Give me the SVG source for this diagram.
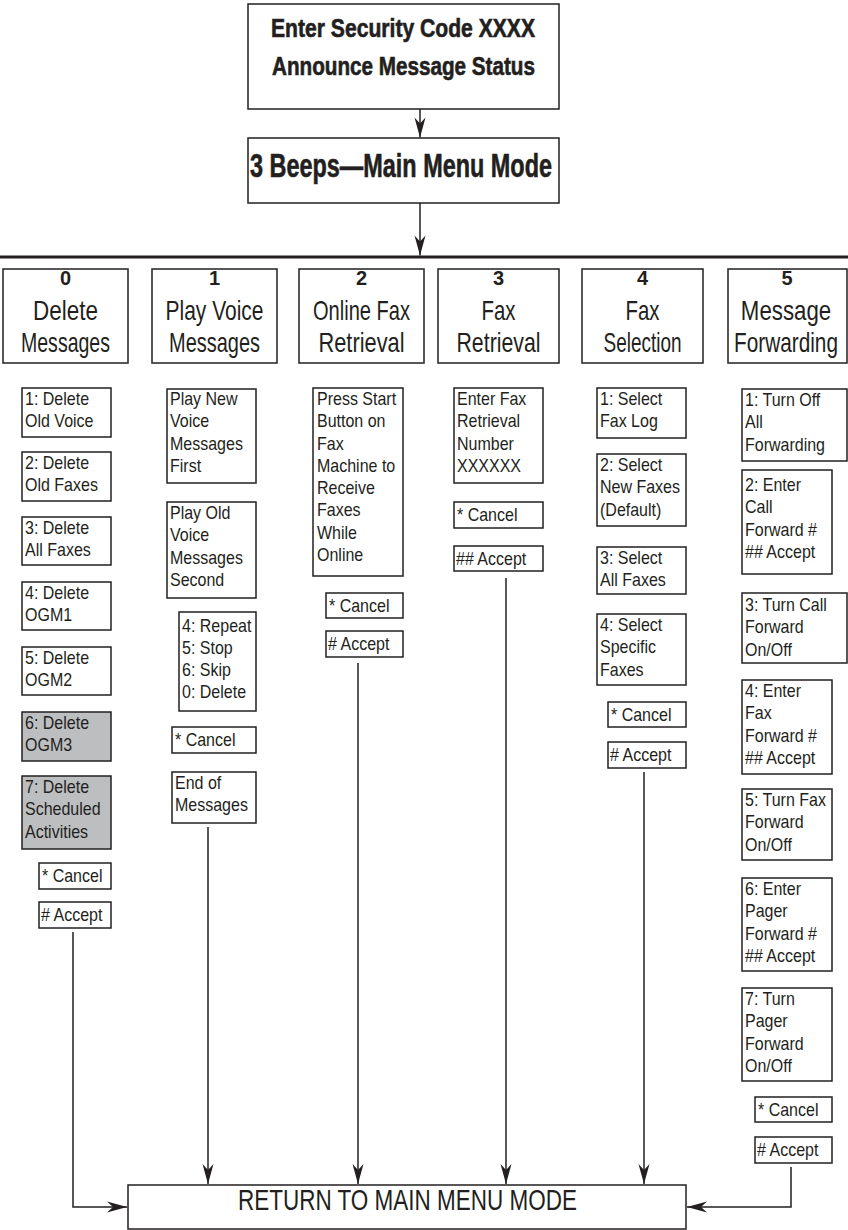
<svg xmlns="http://www.w3.org/2000/svg" width="848" height="1230" viewBox="0 0 848 1230">
<style>
.b{fill:#fff;stroke:#231f20;stroke-width:1.5}
.g{fill:#bcbec0}
.c{fill:none;stroke:#231f20;stroke-width:1.5}
.bus{fill:none;stroke:#231f20;stroke-width:3}
text{font-family:"Liberation Sans",Arial,Helvetica,sans-serif;fill:#231f20}
.s{font-size:18px}
.hd{font-size:28px;text-anchor:middle}
.num{font-size:20px;font-weight:bold;text-anchor:middle}
.big{font-weight:bold;text-anchor:middle;stroke:#231f20;stroke-width:0.6}
.ret{font-size:29px;text-anchor:middle}
</style>
<defs>
<marker id="ah" markerUnits="userSpaceOnUse" viewBox="-21 -7 22 14" refX="0" refY="0" markerWidth="22" markerHeight="14" orient="auto">
<path d="M0,0 L-20,-5.5 L-14,0 L-20,5.5 Z" fill="#231f20"/>
</marker>
</defs>

<g id="top">
<rect class="b" x="248" y="4" width="311" height="105"/>
<text class="big" x="403" y="37" font-size="25" textLength="264" lengthAdjust="spacingAndGlyphs">Enter Security Code XXXX</text>
<text class="big" x="403.5" y="75" font-size="25" textLength="263" lengthAdjust="spacingAndGlyphs">Announce Message Status</text>
</g>
<g id="mainmenu">
<rect class="b" x="248" y="138" width="311" height="65"/>
<text class="big" x="401" y="177" font-size="33" textLength="302" lengthAdjust="spacingAndGlyphs">3 Beeps—Main Menu Mode</text>
</g>

<g id="h0">
<rect class="b" x="3" y="269" width="125" height="94"/>
<text class="num" x="65.5" y="285">0</text>
<text class="hd" x="65.5" y="320" textLength="65" lengthAdjust="spacingAndGlyphs">Delete</text>
<text class="hd" x="65.5" y="352" textLength="89" lengthAdjust="spacingAndGlyphs">Messages</text>
</g>
<g id="h1">
<rect class="b" x="152" y="269" width="125" height="94"/>
<text class="num" x="214.5" y="285">1</text>
<text class="hd" x="214.5" y="320" textLength="98" lengthAdjust="spacingAndGlyphs">Play Voice</text>
<text class="hd" x="214.5" y="352" textLength="91" lengthAdjust="spacingAndGlyphs">Messages</text>
</g>
<g id="h2">
<rect class="b" x="299" y="269" width="125" height="94"/>
<text class="num" x="361.5" y="285">2</text>
<text class="hd" x="361.5" y="320" textLength="97" lengthAdjust="spacingAndGlyphs">Online Fax</text>
<text class="hd" x="361.5" y="352" textLength="86" lengthAdjust="spacingAndGlyphs">Retrieval</text>
</g>
<g id="h3">
<rect class="b" x="438" y="269" width="121" height="94"/>
<text class="num" x="498.5" y="285">3</text>
<text class="hd" x="498.5" y="320" textLength="34" lengthAdjust="spacingAndGlyphs">Fax</text>
<text class="hd" x="498.5" y="352" textLength="84" lengthAdjust="spacingAndGlyphs">Retrieval</text>
</g>
<g id="h4">
<rect class="b" x="582" y="269" width="121" height="94"/>
<text class="num" x="642.5" y="285">4</text>
<text class="hd" x="642.5" y="320" textLength="34" lengthAdjust="spacingAndGlyphs">Fax</text>
<text class="hd" x="642.5" y="352" textLength="78" lengthAdjust="spacingAndGlyphs">Selection</text>
</g>
<g id="h5">
<rect class="b" x="728" y="269" width="119" height="94"/>
<text class="num" x="787" y="285">5</text>
<text class="hd" transform="translate(786,320) scale(0.795,1)">Message</text>
<text class="hd" transform="translate(786,352) scale(0.743,1)">Forwarding</text>
</g>

<!-- column 0 -->
<g id="a1"><rect class="b" x="22" y="388" width="89" height="49"/><text class="s" transform="translate(25,405) scale(0.89,1)"><tspan x="0" y="0">1: Delete</tspan><tspan x="0" dy="22.3">Old Voice</tspan></text></g>
<g id="a2"><rect class="b" x="22" y="452" width="89" height="49"/><text class="s" transform="translate(25,469) scale(0.89,1)"><tspan x="0" y="0">2: Delete</tspan><tspan x="0" dy="22.3">Old Faxes</tspan></text></g>
<g id="a3"><rect class="b" x="22" y="517" width="89" height="48"/><text class="s" transform="translate(25,534) scale(0.89,1)"><tspan x="0" y="0">3: Delete</tspan><tspan x="0" dy="22.3">All Faxes</tspan></text></g>
<g id="a4"><rect class="b" x="22" y="582" width="89" height="48"/><text class="s" transform="translate(25,599) scale(0.89,1)"><tspan x="0" y="0">4: Delete</tspan><tspan x="0" dy="22.3">OGM1</tspan></text></g>
<g id="a5"><rect class="b" x="22" y="647" width="89" height="48"/><text class="s" transform="translate(25,664) scale(0.89,1)"><tspan x="0" y="0">5: Delete</tspan><tspan x="0" dy="22.3">OGM2</tspan></text></g>
<g id="a6"><rect class="b g" x="22" y="712" width="89" height="49"/><text class="s" transform="translate(25,729) scale(0.89,1)"><tspan x="0" y="0">6: Delete</tspan><tspan x="0" dy="22.3">OGM3</tspan></text></g>
<g id="a7"><rect class="b g" x="22" y="776" width="89" height="73"/><text class="s" transform="translate(25,793) scale(0.89,1)"><tspan x="0" y="0">7: Delete</tspan><tspan x="0" dy="22.3">Scheduled</tspan><tspan x="0" dy="22.3">Activities</tspan></text></g>
<g id="a8"><rect class="b" x="39" y="863" width="72" height="26"/><text class="s" transform="translate(42,882) scale(0.89,1)">* Cancel</text></g>
<g id="a9"><rect class="b" x="39" y="902" width="72" height="26"/><text class="s" transform="translate(41,921) scale(0.89,1)"># Accept</text></g>

<!-- column 1 -->
<g id="b1"><rect class="b" x="167" y="389" width="89" height="94"/><text class="s" transform="translate(170,405) scale(0.89,1)"><tspan x="0" y="0">Play New</tspan><tspan x="0" dy="22.3">Voice</tspan><tspan x="0" dy="22.3">Messages</tspan><tspan x="0" dy="22.3">First</tspan></text></g>
<g id="b2"><rect class="b" x="167" y="502" width="89" height="96"/><text class="s" transform="translate(170,519) scale(0.89,1)"><tspan x="0" y="0">Play Old</tspan><tspan x="0" dy="22.3">Voice</tspan><tspan x="0" dy="22.3">Messages</tspan><tspan x="0" dy="22.3">Second</tspan></text></g>
<g id="b3"><rect class="b" x="179" y="612" width="77" height="99"/><text class="s" transform="translate(182,632) scale(0.89,1)"><tspan x="0" y="0">4: Repeat</tspan><tspan x="0" dy="22">5: Stop</tspan><tspan x="0" dy="22">6: Skip</tspan><tspan x="0" dy="22">0: Delete</tspan></text></g>
<g id="b4"><rect class="b" x="172" y="727" width="84" height="26"/><text class="s" transform="translate(175,746) scale(0.89,1)">* Cancel</text></g>
<g id="b5"><rect class="b" x="172" y="772" width="84" height="51"/><text class="s" transform="translate(175,789) scale(0.89,1)"><tspan x="0" y="0">End of</tspan><tspan x="0" dy="22.3">Messages</tspan></text></g>

<!-- column 2 -->
<g id="c1"><rect class="b" x="313" y="388" width="90" height="188"/><text class="s" transform="translate(317,405) scale(0.89,1)"><tspan x="0" y="0">Press Start</tspan><tspan x="0" dy="22.3">Button on</tspan><tspan x="0" dy="22.3">Fax</tspan><tspan x="0" dy="22.3">Machine to</tspan><tspan x="0" dy="22.3">Receive</tspan><tspan x="0" dy="22.3">Faxes</tspan><tspan x="0" dy="22.3">While</tspan><tspan x="0" dy="22.3">Online</tspan></text></g>
<g id="c2"><rect class="b" x="326" y="593" width="77" height="25"/><text class="s" transform="translate(329,612) scale(0.89,1)">* Cancel</text></g>
<g id="c3"><rect class="b" x="326" y="631" width="77" height="26"/><text class="s" transform="translate(328,650) scale(0.89,1)"># Accept</text></g>

<!-- column 3 -->
<g id="d1"><rect class="b" x="454" y="388" width="89" height="95"/><text class="s" transform="translate(457,405) scale(0.89,1)"><tspan x="0" y="0">Enter Fax</tspan><tspan x="0" dy="22.3">Retrieval</tspan><tspan x="0" dy="22.3">Number</tspan><tspan x="0" dy="22.3">XXXXXX</tspan></text></g>
<g id="d2"><rect class="b" x="454" y="502" width="89" height="26"/><text class="s" transform="translate(457,521) scale(0.89,1)">* Cancel</text></g>
<g id="d3"><rect class="b" x="454" y="546" width="89" height="25"/><text class="s" transform="translate(456,565) scale(0.89,1)">## Accept</text></g>

<!-- column 4 -->
<g id="e1"><rect class="b" x="597" y="388" width="89" height="50"/><text class="s" transform="translate(600,405) scale(0.89,1)"><tspan x="0" y="0">1: Select</tspan><tspan x="0" dy="22.3">Fax Log</tspan></text></g>
<g id="e2"><rect class="b" x="597" y="454" width="89" height="72"/><text class="s" transform="translate(600,471) scale(0.89,1)"><tspan x="0" y="0">2: Select</tspan><tspan x="0" dy="22.3">New Faxes</tspan><tspan x="0" dy="22.3">(Default)</tspan></text></g>
<g id="e3"><rect class="b" x="597" y="547" width="89" height="47"/><text class="s" transform="translate(600,564) scale(0.89,1)"><tspan x="0" y="0">3: Select</tspan><tspan x="0" dy="22.3">All Faxes</tspan></text></g>
<g id="e4"><rect class="b" x="597" y="614" width="89" height="71"/><text class="s" transform="translate(600,631) scale(0.89,1)"><tspan x="0" y="0">4: Select</tspan><tspan x="0" dy="22.3">Specific</tspan><tspan x="0" dy="22.3">Faxes</tspan></text></g>
<g id="e5"><rect class="b" x="608" y="702" width="78" height="25"/><text class="s" transform="translate(611,721) scale(0.89,1)">* Cancel</text></g>
<g id="e6"><rect class="b" x="608" y="742" width="78" height="26"/><text class="s" transform="translate(610,761) scale(0.89,1)"># Accept</text></g>

<!-- column 5 -->
<g id="f1"><rect class="b" x="742" y="389" width="105" height="72"/><text class="s" transform="translate(745,406) scale(0.89,1)"><tspan x="0" y="0">1: Turn Off</tspan><tspan x="0" dy="22.3">All</tspan><tspan x="0" dy="22.3">Forwarding</tspan></text></g>
<g id="f2"><rect class="b" x="742" y="470" width="90" height="104"/><text class="s" transform="translate(745,491) scale(0.89,1)"><tspan x="0" y="0">2: Enter</tspan><tspan x="0" dy="22.3">Call</tspan><tspan x="0" dy="22.3">Forward #</tspan><tspan x="0" dy="22.3">## Accept</tspan></text></g>
<g id="f3"><rect class="b" x="742" y="593" width="105" height="70"/><text class="s" transform="translate(745,611) scale(0.89,1)"><tspan x="0" y="0">3: Turn Call</tspan><tspan x="0" dy="22.3">Forward</tspan><tspan x="0" dy="22.3">On/Off</tspan></text></g>
<g id="f4"><rect class="b" x="742" y="680" width="90" height="94"/><text class="s" transform="translate(745,697) scale(0.89,1)"><tspan x="0" y="0">4: Enter</tspan><tspan x="0" dy="22.3">Fax</tspan><tspan x="0" dy="22.3">Forward #</tspan><tspan x="0" dy="22.3">## Accept</tspan></text></g>
<g id="f5"><rect class="b" x="742" y="789" width="90" height="71"/><text class="s" transform="translate(745,806) scale(0.89,1)"><tspan x="0" y="0">5: Turn Fax</tspan><tspan x="0" dy="22.3">Forward</tspan><tspan x="0" dy="22.3">On/Off</tspan></text></g>
<g id="f6"><rect class="b" x="742" y="878" width="90" height="93"/><text class="s" transform="translate(745,895) scale(0.89,1)"><tspan x="0" y="0">6: Enter</tspan><tspan x="0" dy="22.3">Pager</tspan><tspan x="0" dy="22.3">Forward #</tspan><tspan x="0" dy="22.3">## Accept</tspan></text></g>
<g id="f7"><rect class="b" x="742" y="988" width="90" height="93"/><text class="s" transform="translate(745,1005) scale(0.89,1)"><tspan x="0" y="0">7: Turn</tspan><tspan x="0" dy="22.3">Pager</tspan><tspan x="0" dy="22.3">Forward</tspan><tspan x="0" dy="22.3">On/Off</tspan></text></g>
<g id="f8"><rect class="b" x="755" y="1097" width="77" height="25"/><text class="s" transform="translate(758,1116) scale(0.89,1)">* Cancel</text></g>
<g id="f9"><rect class="b" x="755" y="1137" width="77" height="26"/><text class="s" transform="translate(757,1156) scale(0.89,1)"># Accept</text></g>

<g id="return">
<rect class="b" x="128" y="1185" width="558" height="44"/>
<text class="ret" x="407.5" y="1210" textLength="339" lengthAdjust="spacingAndGlyphs">RETURN TO MAIN MENU MODE</text>
</g>

<g id="connectors">
<line class="c" x1="420" y1="109" x2="420" y2="137.5" marker-end="url(#ah)"/>
<line class="c" x1="420" y1="203" x2="420" y2="255.5" marker-end="url(#ah)"/>
<line class="bus" x1="0" y1="257" x2="848" y2="257"/>
<polyline class="c" points="73,932 73,1207 127,1207" marker-end="url(#ah)"/>
<line class="c" x1="208" y1="827" x2="208" y2="1184" marker-end="url(#ah)"/>
<line class="c" x1="358" y1="663" x2="358" y2="1184" marker-end="url(#ah)"/>
<line class="c" x1="506" y1="578" x2="506" y2="1184" marker-end="url(#ah)"/>
<line class="c" x1="644" y1="772" x2="644" y2="1184" marker-end="url(#ah)"/>
<polyline class="c" points="791,1167 791,1207 687,1207" marker-end="url(#ah)"/>
</g>
</svg>
